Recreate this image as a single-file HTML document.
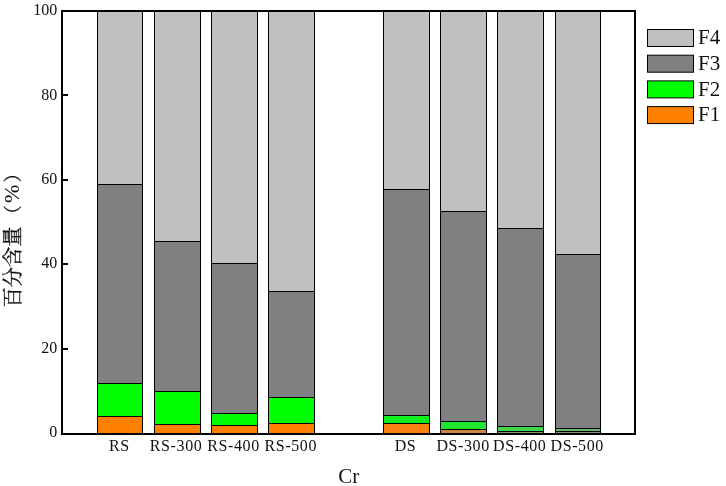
<!DOCTYPE html>
<html lang="zh"><head><meta charset="utf-8"><title>Cr</title>
<style>
html,body{margin:0;padding:0;background:#fff;}
body{width:726px;height:486px;overflow:hidden;}
svg{display:block;}
text{font-family:"Liberation Serif","Noto Serif CJK SC",serif;fill:#111;}
.t16{font-size:16px;}
.xl{letter-spacing:0.6px;}
.t21{font-size:21px;}
.cj{font-family:"Noto Serif CJK SC","Liberation Serif",serif;font-size:20.3px;font-weight:400;stroke:#111;stroke-width:0.3px;}
</style></head><body>
<svg width="726" height="486" viewBox="0 0 726 486">
<rect x="0" y="0" width="726" height="486" fill="#ffffff"/>

<rect x="97.5" y="11.0" width="45" height="173.5" fill="#c0c0c0" stroke="#000" stroke-width="1"/>
<rect x="97.5" y="184.5" width="45" height="199.0" fill="#808082" stroke="#000" stroke-width="1"/>
<rect x="97.5" y="383.5" width="45" height="33.0" fill="#00ff00" stroke="#000" stroke-width="1"/>
<rect x="97.5" y="416.5" width="45" height="17.5" fill="#ff8000" stroke="#000" stroke-width="1"/>
<rect x="154.5" y="11.0" width="46" height="230.5" fill="#c0c0c0" stroke="#000" stroke-width="1"/>
<rect x="154.5" y="241.5" width="46" height="150.0" fill="#808082" stroke="#000" stroke-width="1"/>
<rect x="154.5" y="391.5" width="46" height="33.0" fill="#00ff00" stroke="#000" stroke-width="1"/>
<rect x="154.5" y="424.5" width="46" height="9.5" fill="#ff8000" stroke="#000" stroke-width="1"/>
<rect x="211.5" y="11.0" width="46" height="252.5" fill="#c0c0c0" stroke="#000" stroke-width="1"/>
<rect x="211.5" y="263.5" width="46" height="150.0" fill="#808082" stroke="#000" stroke-width="1"/>
<rect x="211.5" y="413.5" width="46" height="12.0" fill="#00ff00" stroke="#000" stroke-width="1"/>
<rect x="211.5" y="425.5" width="46" height="8.5" fill="#ff8000" stroke="#000" stroke-width="1"/>
<rect x="268.5" y="11.0" width="46" height="280.5" fill="#c0c0c0" stroke="#000" stroke-width="1"/>
<rect x="268.5" y="291.5" width="46" height="106.0" fill="#808082" stroke="#000" stroke-width="1"/>
<rect x="268.5" y="397.5" width="46" height="26.0" fill="#00ff00" stroke="#000" stroke-width="1"/>
<rect x="268.5" y="423.5" width="46" height="10.5" fill="#ff8000" stroke="#000" stroke-width="1"/>
<rect x="383.5" y="11.0" width="46" height="178.5" fill="#c0c0c0" stroke="#000" stroke-width="1"/>
<rect x="383.5" y="189.5" width="46" height="226.0" fill="#808082" stroke="#000" stroke-width="1"/>
<rect x="383.5" y="415.5" width="46" height="8.0" fill="#10f020" stroke="#000" stroke-width="1"/>
<rect x="383.5" y="423.5" width="46" height="10.5" fill="#f88010" stroke="#000" stroke-width="1"/>
<rect x="440.5" y="11.0" width="46" height="200.5" fill="#c0c0c0" stroke="#000" stroke-width="1"/>
<rect x="440.5" y="211.5" width="46" height="210.0" fill="#808082" stroke="#000" stroke-width="1"/>
<rect x="440.5" y="421.5" width="46" height="8.0" fill="#20e830" stroke="#000" stroke-width="1"/>
<rect x="440.5" y="429.5" width="46" height="4.5" fill="#c88840" stroke="#000" stroke-width="1"/>
<rect x="497.5" y="11.0" width="46" height="217.5" fill="#c0c0c0" stroke="#000" stroke-width="1"/>
<rect x="497.5" y="228.5" width="46" height="198.0" fill="#808082" stroke="#000" stroke-width="1"/>
<rect x="497.5" y="426.5" width="46" height="5.0" fill="#40d848" stroke="#000" stroke-width="1"/>
<rect x="497.5" y="431.5" width="46" height="2.5" fill="#909060" stroke="#000" stroke-width="1"/>
<rect x="555.5" y="11.0" width="45" height="243.5" fill="#c0c0c0" stroke="#000" stroke-width="1"/>
<rect x="555.5" y="254.5" width="45" height="174.0" fill="#808082" stroke="#000" stroke-width="1"/>
<rect x="555.5" y="428.5" width="45" height="3.0" fill="#68b868" stroke="#000" stroke-width="1"/>
<rect x="555.5" y="431.5" width="45" height="2.5" fill="#889070" stroke="#000" stroke-width="1"/>
<rect x="62" y="11" width="573" height="423" fill="none" stroke="#000" stroke-width="2"/>
<rect x="63" y="94.0" width="5" height="2" fill="#000"/>
<rect x="63" y="179.0" width="5" height="2" fill="#000"/>
<rect x="63" y="263.0" width="5" height="2" fill="#000"/>
<rect x="63" y="348.0" width="5" height="2" fill="#000"/>
<text class="t16" x="57.3" y="15.1" text-anchor="end">100</text>
<text class="t16" x="57.3" y="100" text-anchor="end">80</text>
<text class="t16" x="57.3" y="184" text-anchor="end">60</text>
<text class="t16" x="57.3" y="268" text-anchor="end">40</text>
<text class="t16" x="57.3" y="353" text-anchor="end">20</text>
<text class="t16" x="57.3" y="437.3" text-anchor="end">0</text>
<text class="t16 xl" x="119.3" y="451" text-anchor="middle">RS</text>
<text class="t16 xl" x="176.10000000000002" y="451" text-anchor="middle">RS-300</text>
<text class="t16 xl" x="233.5" y="451" text-anchor="middle">RS-400</text>
<text class="t16 xl" x="290.8" y="451" text-anchor="middle">RS-500</text>
<text class="t16 xl" x="405.5" y="451" text-anchor="middle">DS</text>
<text class="t16 xl" x="463.1" y="451" text-anchor="middle">DS-300</text>
<text class="t16 xl" x="519.8" y="451" text-anchor="middle">DS-400</text>
<text class="t16 xl" x="577.1999999999999" y="451" text-anchor="middle">DS-500</text>
<text class="t21" x="338.2" y="483">Cr</text>
<rect x="647.5" y="29.5" width="46" height="17" fill="#c0c0c0" stroke="#000" stroke-width="1"/>
<text class="t21" x="698" y="44.1">F4</text>
<rect x="647.5" y="55.2" width="46" height="17" fill="#808082" stroke="#000" stroke-width="1"/>
<text class="t21" x="698" y="69.8">F3</text>
<rect x="647.5" y="80.9" width="46" height="17" fill="#00ff00" stroke="#000" stroke-width="1"/>
<text class="t21" x="698" y="95.5">F2</text>
<rect x="647.5" y="106.6" width="46" height="17" fill="#ff8000" stroke="#000" stroke-width="1"/>
<text class="t21" x="698" y="121.2">F1</text>
<rect x="3.8" y="230" width="5.2" height="9" fill="#b9b9b9"/>
<g transform="translate(19.5,307.5) rotate(-90)"><text class="cj" x="0" y="0">百分含量</text><text class="cj" style="font-size:18.5px" x="83.8" y="-0.6">（</text><text class="t21" style="font-size:22px" x="104.6" y="-0.5">%</text><text class="cj" style="font-size:18.5px" x="125" y="-0.6">）</text></g>
</svg></body></html>
